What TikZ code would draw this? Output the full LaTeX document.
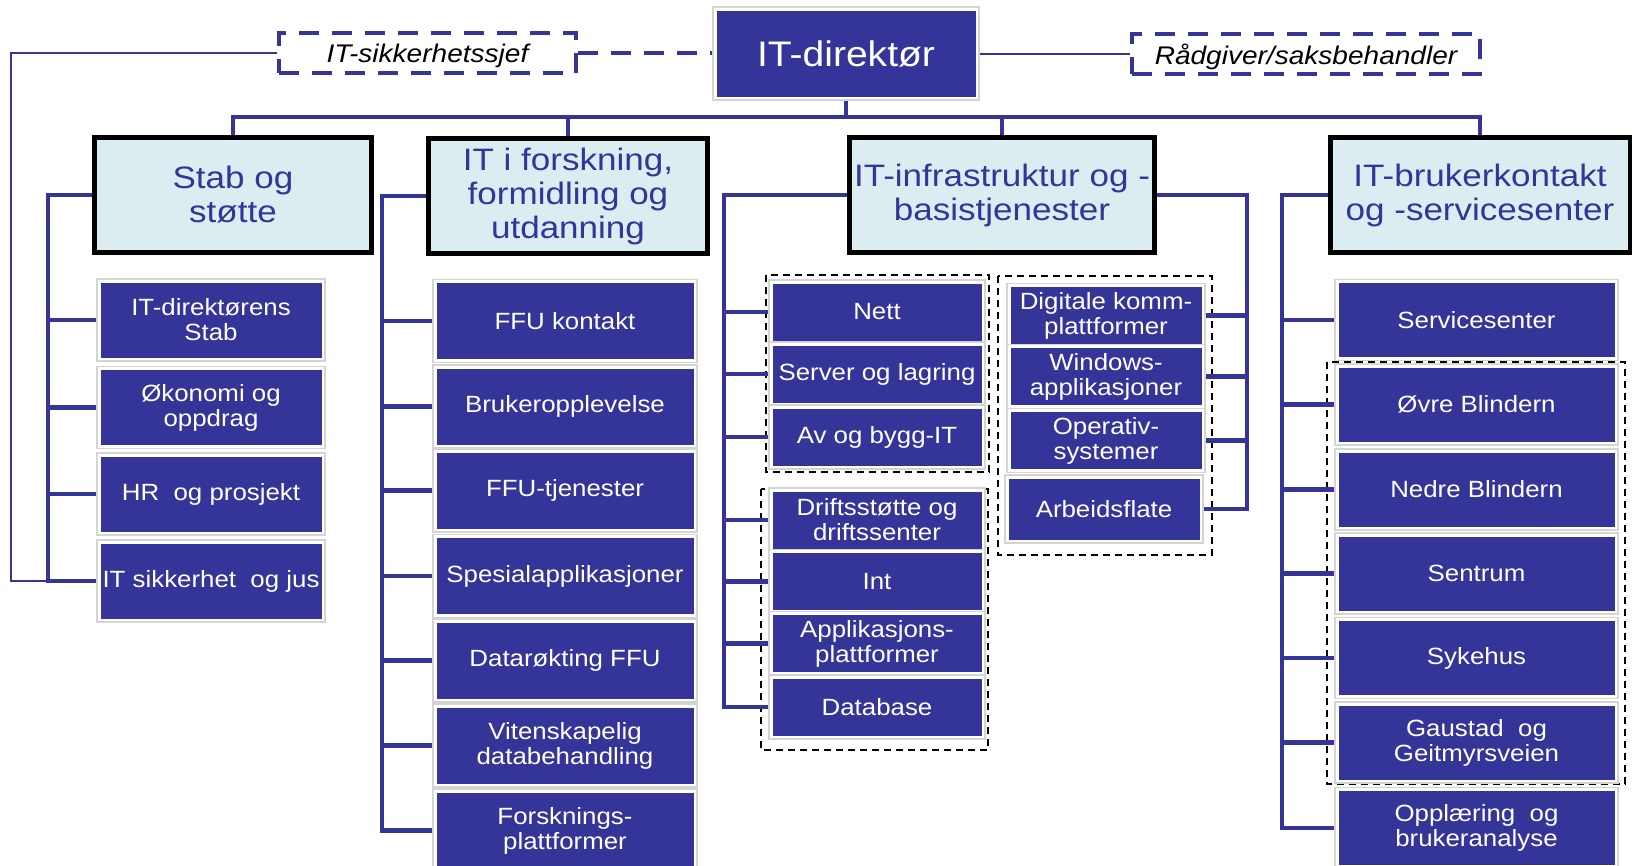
\documentclass[tikz,border=0pt]{standalone}
\usepackage{fontspec}
\setmainfont{Liberation Sans}
\newfontfamily\wfont[FakeStretch=1.1]{Liberation Sans}
\newfontfamily\tfont[FakeStretch=1.13]{Liberation Sans}
\definecolor{dblue}{RGB}{52,52,153}
\definecolor{lcyan}{RGB}{219,237,240}
\definecolor{fgray}{RGB}{212,212,212}
\begin{document}
\begin{tikzpicture}[x=1pt,y=-1pt,
  sub/.style={draw=fgray, line width=1.2pt, fill=white, inner sep=0pt, text=white, align=center,
    font=\wfont\fontsize{23.5}{25}\selectfont,
    path picture={\fill[dblue] ([xshift=3.5pt,yshift=3.5pt]path picture bounding box.south west) rectangle ([xshift=-3.5pt,yshift=-3.5pt]path picture bounding box.north east);}},
  dirbox/.style={sub, font=\wfont\fontsize{35.5}{38}\selectfont},
  cat/.style={draw=black, line width=5pt, fill=lcyan, text=dblue, align=center, inner sep=0pt,
    font=\tfont\fontsize{31}{34}\selectfont},
  conn/.style={draw=dblue, line width=4.5pt},
  thinline/.style={draw=dblue, line width=2pt},
  grp/.style={draw=black, line width=2pt, dash pattern=on 7pt off 5pt},
  dashbox/.style={draw=dblue, line width=4pt, dash pattern=on 20pt off 13pt, fill=white, inner sep=0pt,
    text depth=0pt, font=\wfont\itshape\fontsize{25.5}{27}\selectfont}
]
\fill[white] (0,0) rectangle (1632,865);
\useasboundingbox (0,0) rectangle (1632,865);

% dashed group frames
\draw[grp] (766,275) rectangle (989,472);
\draw[grp] (761,489) rectangle (988,750);
\draw[grp] (998,276) rectangle (1212,555);
\draw[grp] (1327,362) rectangle (1625,784);

% top level
\node[dirbox, minimum width=266pt, minimum height=93pt] (dir) at (846,53.5) {IT-direktør};
\node[dashbox, minimum width=297pt, minimum height=40pt] (sec) at (427.5,53) {IT-sikkerhetssjef};
\node[dashbox, minimum width=348pt, minimum height=40pt] (adv) at (1306,54) {Rådgiver/saksbehandler};

% categories
\node[cat, minimum width=277pt, minimum height=115pt] (stab) at (233,195) {Stab og\\støtte};
\node[cat, minimum width=279pt, minimum height=115pt, font=\tfont\fontsize{31}{34}\selectfont] (forsk) at (568,196) {IT i forskning,\\formidling og\\utdanning};
\node[cat, minimum width=305pt, minimum height=115pt] (infra) at (1002,195) {IT-infrastruktur og -\\basistjenester};
\node[cat, minimum width=300pt, minimum height=115pt] (bruker) at (1480,195) {IT-brukerkontakt\\og -servicesenter};

% Stab
\node[sub, minimum width=228pt, minimum height=82pt] (s1) at (211,320) {IT-direktørens\\Stab};
\node[sub, minimum width=228pt, minimum height=82pt] (s2) at (211,407.5) {Økonomi og\\oppdrag};
\node[sub, minimum width=228pt, minimum height=82pt] (s3) at (211,494) {HR\ \ og prosjekt};
\node[sub, minimum width=228pt, minimum height=82pt] (s4) at (211,581) {IT sikkerhet\ \ og jus};

% IT i forskning
\node[sub, minimum width=264pt, minimum height=83pt] (f1) at (565,321) {FFU kontakt};
\node[sub, minimum width=264pt, minimum height=83pt] (f2) at (565,406.5) {Brukeropplevelse};
\node[sub, minimum width=264pt, minimum height=83pt] (f3) at (565,490.5) {FFU-tjenester};
\node[sub, minimum width=264pt, minimum height=83pt] (f4) at (565,576) {Spesialapplikasjoner};
\node[sub, minimum width=264pt, minimum height=83pt] (f5) at (565,660.5) {Datarøkting FFU};
\node[sub, minimum width=264pt, minimum height=83pt] (f6) at (565,745.5) {Vitenskapelig\\databehandling};
\node[sub, minimum width=264pt, minimum height=83pt] (f7) at (565,830.5) {Forsknings-\\plattformer};

% IT-infrastruktur left
\node[sub, minimum width=216pt, minimum height=64pt] (n1) at (877,312) {Nett};
\node[sub, minimum width=216pt, minimum height=64pt] (n2) at (877,374) {Server og lagring};
\node[sub, minimum width=216pt, minimum height=64pt] (n3) at (877,437) {Av og bygg-IT};
\node[sub, minimum width=216pt, minimum height=64pt] (d1) at (877,520) {Driftsstøtte og\\driftssenter};
\node[sub, minimum width=216pt, minimum height=64pt] (d2) at (877,581.5) {Int};
\node[sub, minimum width=216pt, minimum height=64pt] (d3) at (877,643.5) {Applikasjons-\\plattformer};
\node[sub, minimum width=216pt, minimum height=64pt] (d4) at (877,707) {Database};

% IT-infrastruktur right
\node[sub, minimum width=198pt, minimum height=64pt] (r1) at (1106,315.5) {Digitale komm-\\plattformer};
\node[sub, minimum width=198pt, minimum height=64pt] (r2) at (1106,376.5) {Windows-\\applikasjoner};
\node[sub, minimum width=198pt, minimum height=64pt] (r3) at (1106,440.5) {Operativ-\\systemer};
\node[sub, minimum width=198pt, minimum height=68pt] (r4) at (1104,509) {Arbeidsflate};

% IT-brukerkontakt
\node[sub, minimum width=283pt, minimum height=81pt] (b1) at (1476.5,320) {Servicesenter};
\node[sub, minimum width=283pt, minimum height=81pt] (b2) at (1476.5,404.5) {Øvre Blindern};
\node[sub, minimum width=283pt, minimum height=81pt] (b3) at (1476.5,489.5) {Nedre Blindern};
\node[sub, minimum width=283pt, minimum height=81pt] (b4) at (1476.5,573.5) {Sentrum};
\node[sub, minimum width=283pt, minimum height=81pt] (b5) at (1476.5,658) {Sykehus};
\node[sub, minimum width=283pt, minimum height=81pt] (b6) at (1476.5,742.5) {Gaustad\ \ og\\Geitmyrsveien};
\node[sub, minimum width=283pt, minimum height=81pt] (b7) at (1476.5,828) {Opplæring\ \ og\\brukeranalyse};

% bus coordinates
\coordinate (bus) at (0,117);
\coordinate (lft) at (11,0);
\coordinate (sv) at (48,0);
\coordinate (fv) at (382,0);
\coordinate (iv) at (724,0);
\coordinate (rv) at (1247,0);
\coordinate (bv) at (1282,0);

% top connectors
\draw[conn, dash pattern=on 20pt off 13pt] (sec.east) -- (sec.east -| dir.west);
\draw[thinline] (dir.east) -- (dir.east -| adv.west);
\draw[thinline] (sec.west) -| (lft |- s4.west) -- (sv |- s4.west);
\draw[conn] (dir.south) -- (dir.south |- bus);
\draw[conn] (stab.north) -- (stab.north |- bus) -- (bruker.north |- bus) -- (bruker.north);
\draw[conn] (forsk.north) -- (forsk.north |- bus);
\draw[conn] (infra.north) -- (infra.north |- bus);

% branches
\draw[conn] (stab.west) -| (sv |- s4.west) -- (s4.west);
\foreach \n in {s1,s2,s3} \draw[conn] (sv |- \n.west) -- (\n.west);
\draw[conn] (forsk.west) -| (fv |- f7.west) -- (f7.west);
\foreach \n in {f1,f2,f3,f4,f5,f6} \draw[conn] (fv |- \n.west) -- (\n.west);
\draw[conn] (infra.west) -| (iv |- d4.west) -- (d4.west);
\foreach \n in {n1,n2,n3,d1,d2,d3} \draw[conn] (iv |- \n.west) -- (\n.west);
\draw[conn] (infra.east) -| (rv |- r4.east) -- (r4.east);
\foreach \n in {r1,r2,r3} \draw[conn] (rv |- \n.east) -- (\n.east);
\draw[conn] (bruker.west) -| (bv |- b7.west) -- (b7.west);
\foreach \n in {b1,b2,b3,b4,b5,b6} \draw[conn] (bv |- \n.west) -- (\n.west);
\end{tikzpicture}
\end{document}
